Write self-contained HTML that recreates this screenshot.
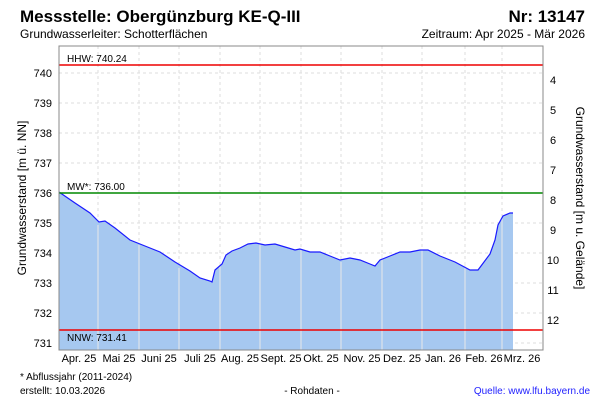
<!DOCTYPE html><html><head><style>body{margin:0;background:#fff;font-family:"Liberation Sans",sans-serif}svg text{font-family:"Liberation Sans",sans-serif}</style></head><body>
<svg width="600" height="400" xmlns="http://www.w3.org/2000/svg">
<text x="20" y="22" font-size="17" font-weight="bold">Messstelle: Obergünzburg KE-Q-III</text>
<text x="585" y="22" font-size="17" font-weight="bold" text-anchor="end">Nr: 13147</text>
<text x="20" y="38" font-size="12">Grundwasserleiter:  Schotterflächen</text>
<text x="585" y="38" font-size="12" text-anchor="end">Zeitraum: Apr 2025 - Mär 2026</text>
<g stroke="#ddd" stroke-dasharray="3,3">
<line x1="59" x2="543" y1="73" y2="73"/><line x1="59" x2="543" y1="103" y2="103"/><line x1="59" x2="543" y1="133" y2="133"/><line x1="59" x2="543" y1="163" y2="163"/><line x1="59" x2="543" y1="223" y2="223"/><line x1="59" x2="543" y1="253" y2="253"/><line x1="59" x2="543" y1="283" y2="283"/><line x1="59" x2="543" y1="313" y2="313"/><line x1="59" x2="543" y1="343" y2="343"/>
<line y1="46" y2="350" x1="98" x2="98"/><line y1="46" y2="350" x1="139" x2="139"/><line y1="46" y2="350" x1="179" x2="179"/><line y1="46" y2="350" x1="220" x2="220"/><line y1="46" y2="350" x1="260" x2="260"/><line y1="46" y2="350" x1="301" x2="301"/><line y1="46" y2="350" x1="341" x2="341"/><line y1="46" y2="350" x1="382" x2="382"/><line y1="46" y2="350" x1="422" x2="422"/><line y1="46" y2="350" x1="465" x2="465"/><line y1="46" y2="350" x1="502" x2="502"/>
</g>
<path d="M59 192 L75 203 L90 213 L99 222 L105 221 L115 228 L130 240 L145 246 L160 252 L175 262 L190 271 L200 278 L210 281 L212 282 L215 270 L222 264 L226 255 L232 251 L240 248 L248 244 L256 243 L265 245 L275 244 L285 247 L295 250 L300 249 L310 252 L320 252 L330 256 L340 260 L350 258 L360 260 L370 264 L375 266 L380 260 L390 256 L400 252 L410 252 L420 250 L428 250 L440 256 L455 262 L470 270 L478 270 L490 254 L495 240 L498 225 L503 216 L510 213 L513 213 L513 350 L59 350Z" fill="#a6c8f0"/>
<g stroke="#e8e8e8"><line y1="225" y2="350" x1="98" x2="98"/><line y1="245" y2="350" x1="139" x2="139"/><line y1="268" y2="350" x1="179" x2="179"/><line y1="262" y2="350" x1="220" x2="220"/><line y1="244" y2="350" x1="260" x2="260"/><line y1="250" y2="350" x1="301" x2="301"/><line y1="262" y2="350" x1="341" x2="341"/><line y1="254" y2="350" x1="382" x2="382"/><line y1="250" y2="350" x1="422" x2="422"/><line y1="262" y2="350" x1="465" x2="465"/><line y1="216" y2="350" x1="502" x2="502"/></g>
<path d="M59 192 L75 203 L90 213 L99 222 L105 221 L115 228 L130 240 L145 246 L160 252 L175 262 L190 271 L200 278 L210 281 L212 282 L215 270 L222 264 L226 255 L232 251 L240 248 L248 244 L256 243 L265 245 L275 244 L285 247 L295 250 L300 249 L310 252 L320 252 L330 256 L340 260 L350 258 L360 260 L370 264 L375 266 L380 260 L390 256 L400 252 L410 252 L420 250 L428 250 L440 256 L455 262 L470 270 L478 270 L490 254 L495 240 L498 225 L503 216 L510 213 L513 213" fill="none" stroke="#1a1aff" stroke-width="1.2"/>
<line x1="59" x2="543" y1="65" y2="65" stroke="#e00" stroke-width="1.5"/>
<line x1="59" x2="543" y1="193" y2="193" stroke="#080" stroke-width="1.5"/>
<line x1="59" x2="543" y1="330" y2="330" stroke="#e00" stroke-width="1.5"/>
<g font-size="10"><text x="67" y="62">HHW: 740.24</text><text x="67" y="190">MW*: 736.00</text><text x="67" y="341">NNW: 731.41</text></g>
<rect x="59" y="46" width="484" height="304" fill="none" stroke="#888"/>
<g font-size="11" text-anchor="end"><text x="52" y="77">740</text><text x="52" y="107">739</text><text x="52" y="137">738</text><text x="52" y="167">737</text><text x="52" y="197">736</text><text x="52" y="227">735</text><text x="52" y="257">734</text><text x="52" y="287">733</text><text x="52" y="317">732</text><text x="52" y="347">731</text></g>
<g font-size="11" text-anchor="middle"><text x="553" y="84">4</text><text x="553" y="114">5</text><text x="553" y="144">6</text><text x="553" y="174">7</text><text x="553" y="204">8</text><text x="553" y="234">9</text><text x="553" y="264">10</text><text x="553" y="294">11</text><text x="553" y="324">12</text></g>
<g font-size="11" text-anchor="middle"><text x="79" y="362">Apr. 25</text><text x="119" y="362">Mai 25</text><text x="159" y="362">Juni 25</text><text x="200" y="362">Juli 25</text><text x="240" y="362">Aug. 25</text><text x="281" y="362">Sept. 25</text><text x="321" y="362">Okt. 25</text><text x="362" y="362">Nov. 25</text><text x="402" y="362">Dez. 25</text><text x="443" y="362">Jan. 26</text><text x="484" y="362">Feb. 26</text><text x="522" y="362">Mrz. 26</text></g>
<text transform="translate(26,198) rotate(-90)" font-size="12" text-anchor="middle">Grundwasserstand [m ü. NN]</text>
<text transform="translate(576,198) rotate(90)" font-size="12" text-anchor="middle">Grundwasserstand [m u. Gelände]</text>
<text x="20" y="380" font-size="10">* Abflussjahr (2011-2024)</text>
<text x="20" y="394" font-size="10">erstellt:  10.03.2026</text>
<text x="312" y="394" font-size="10" text-anchor="middle">- Rohdaten -</text>
<text x="590" y="394" font-size="10" text-anchor="end" fill="#22f">Quelle: www.lfu.bayern.de</text>
</svg></body></html>
